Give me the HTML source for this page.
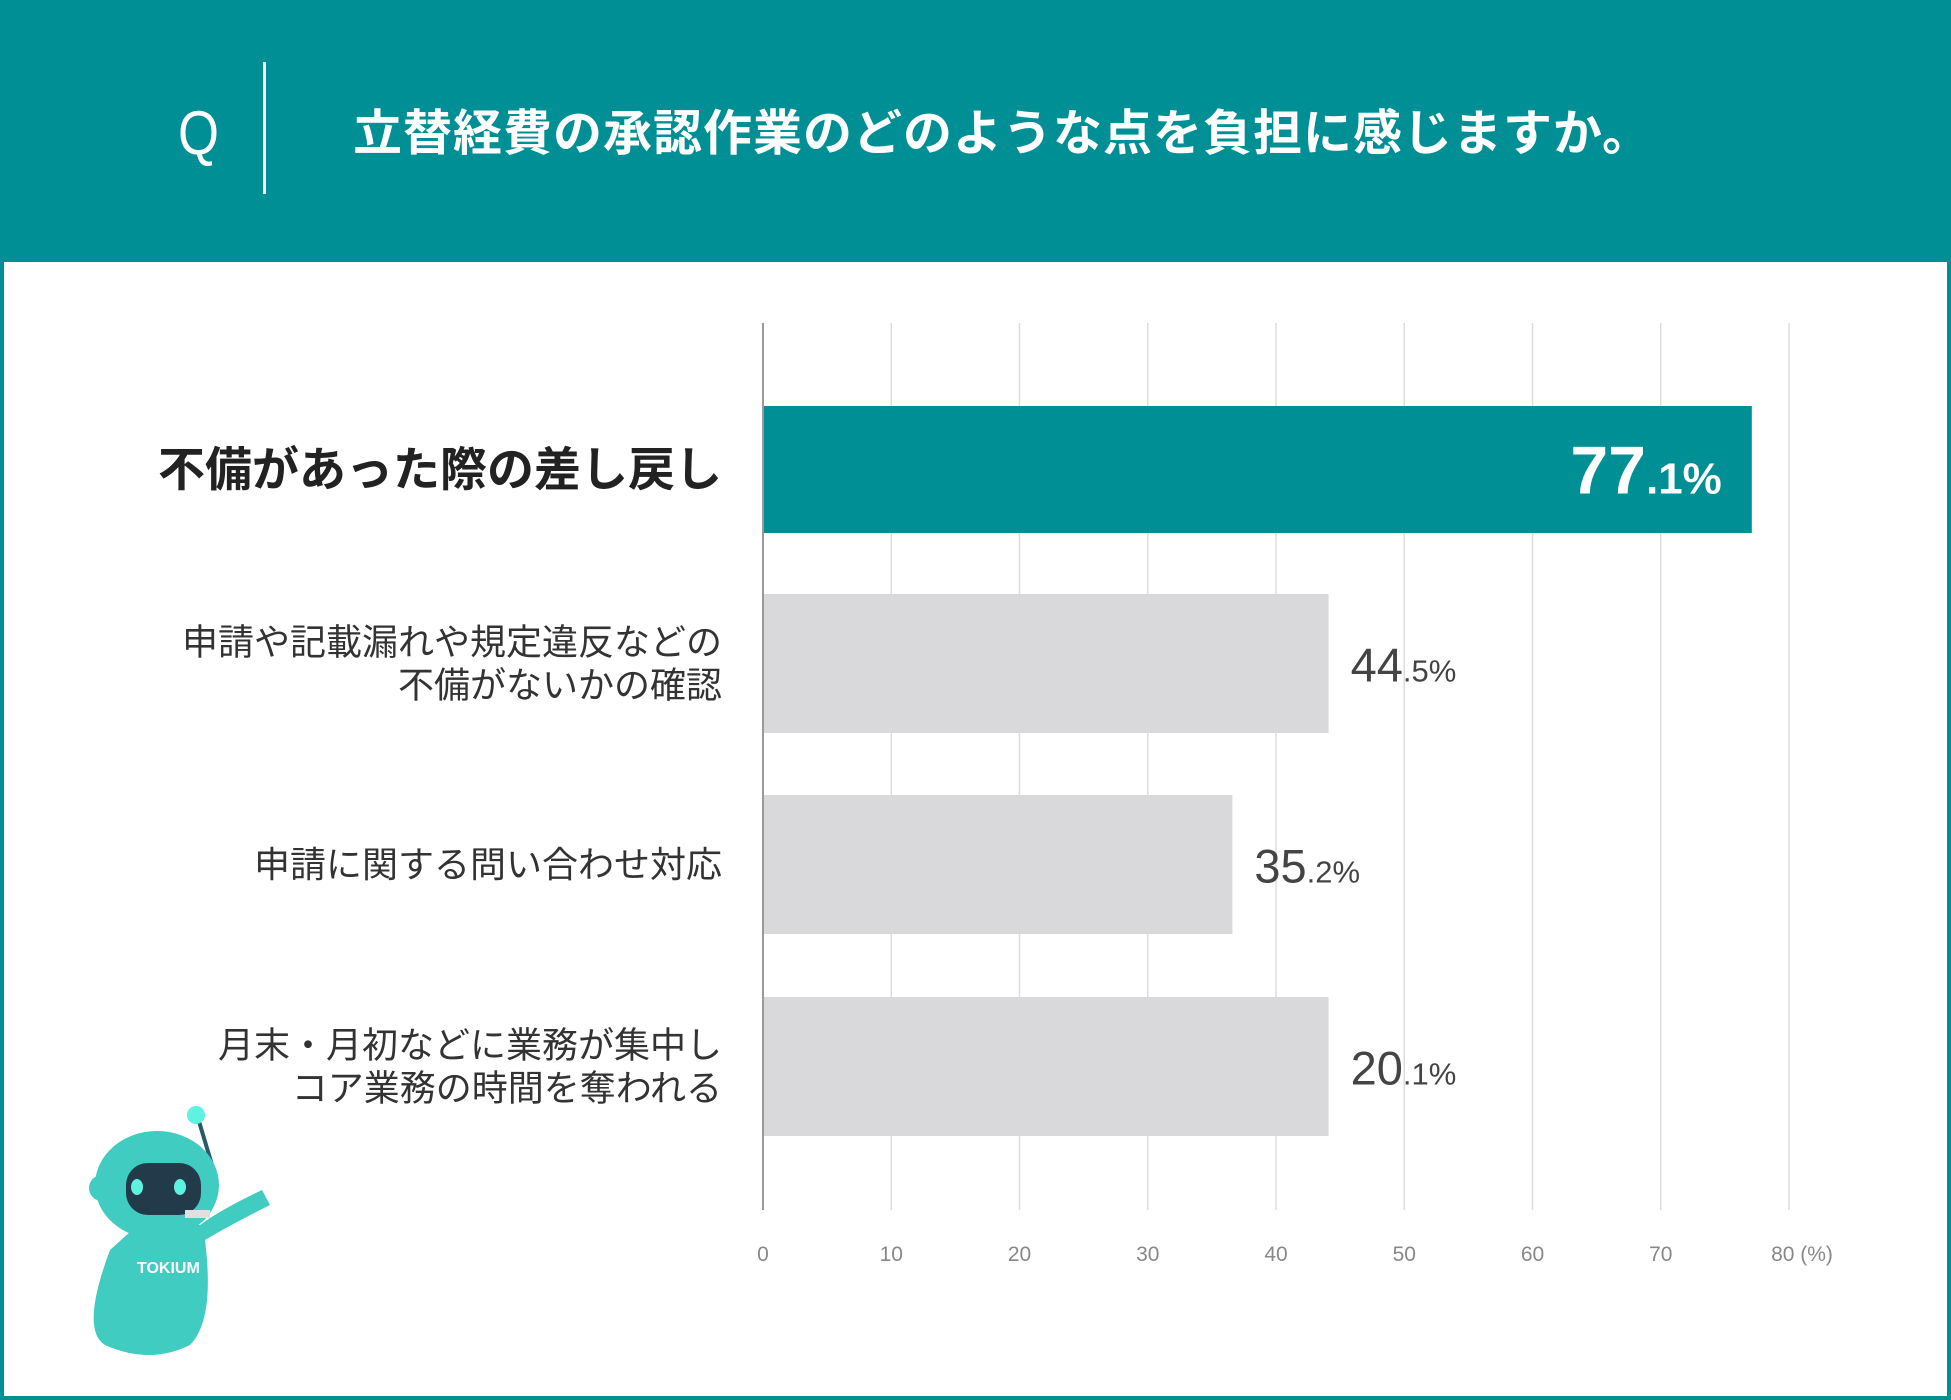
<!DOCTYPE html>
<html><head><meta charset="utf-8">
<style>
html,body{margin:0;padding:0}
body{width:1951px;height:1400px;position:relative;overflow:hidden;background:#008f94;font-family:"Liberation Sans","Noto Sans CJK JP",sans-serif}
#panel{position:absolute;left:4px;top:262px;width:1943px;height:1134px;background:#fff}
.t{position:absolute;white-space:nowrap}
</style></head>
<body>
<div class="t" style="left:178px;top:98px;font-size:62px;color:#fff;font-weight:300;line-height:72px;transform:scaleX(0.85);transform-origin:left">Q</div>
<div style="position:absolute;left:263px;top:62px;width:3px;height:132px;background:#fff"></div>
<div class="t" style="left:353px;top:104px;font-size:49px;font-weight:bold;color:#fff;line-height:60px;letter-spacing:1px">立替経費の承認作業のどのような点を負担に感じますか。</div>
<div id="panel"></div>
<svg id="chart" width="1951" height="1400" style="position:absolute;left:0;top:0"></svg>
<svg width="1951" height="1400" style="position:absolute;left:0;top:0">
 <line x1="198" y1="1118" x2="215" y2="1175" stroke="#2a5a6a" stroke-width="4"/>
 <circle cx="196" cy="1115" r="9" fill="#5ef2e0"/>
 <path d="M110 1250 Q80 1330 105 1345 Q150 1365 190 1345 Q215 1320 205 1240 Q230 1225 270 1205 L262 1190 Q220 1210 200 1225 Q160 1225 130 1232 Z" fill="#40ccc0"/>
 <ellipse cx="157" cy="1185" rx="62" ry="54" fill="#40ccc0"/>
 <rect x="126" y="1163" width="75" height="52" rx="22" fill="#233a4a"/>
 <ellipse cx="137" cy="1187" rx="6" ry="8" fill="#5ef2e0"/>
 <ellipse cx="180" cy="1187" rx="6" ry="8" fill="#5ef2e0"/>
 <circle cx="102" cy="1188" r="13" fill="#40ccc0"/>
 <rect x="185" y="1210" width="25" height="8" fill="#e0e0e0"/>
 <text x="137" y="1273" font-size="16" font-weight="bold" fill="#fff" font-family="Liberation Sans, sans-serif">TOKIUM</text>
</svg>
<script>
const categories=[["不備があった際の差し戻し"],["申請や記載漏れや規定違反などの","不備がないかの確認"],["申請に関する問い合わせ対応"],["月末・月初などに業務が集中し","コア業務の時間を奪われる"]];
const values=["77.1","44.5","35.2","20.1"];
const barLengths=[77.1,44.1,36.6,44.1];
const ticks=[0,10,20,30,40,50,60,70,80];
const svg=document.getElementById('chart');
const NS='http://www.w3.org/2000/svg';
const x0=763,x1=1789,xmax=80;
const X=v=>x0+(x1-x0)*v/xmax;
const bands=[[406,533],[594,733],[795,934],[997,1136]];
function mk(t,a){const e=document.createElementNS(NS,t);for(const k in a)e.setAttribute(k,a[k]);svg.appendChild(e);return e;}
ticks.forEach((t,i)=>{
 const l=mk('line',{x1:X(t),x2:X(t),y1:323,y2:1210,stroke:t===0?'#999':'#ddd','stroke-width':t===0?2:1.5});
 
 
 const tx=mk('text',{x:X(t),y:1261,'font-size':21,fill:'#888','text-anchor':'middle'});
 tx.textContent=t===80?'80 (%)':String(t);
 if(t===80)tx.setAttribute('x',X(t)+13);
 
 
});
barLengths.forEach((v,i)=>{
 const [y0,y1]=bands[i];const first=i===0;
 const r=mk('rect',{x:X(0)+1,y:y0,width:X(v)-X(0)-1,height:y1-y0,fill:first?'#008f94':'#d9d9db'});
 
 
 const parts=values[i].split('.');
 const ty=(y0+y1)/2+(first?24:18);
 const t=mk('text',{x:first?X(v)-30:X(v)+22,y:ty,'text-anchor':first?'end':'start',fill:first?'#fff':'#444'});
 const a=document.createElementNS(NS,'tspan');a.textContent=parts[0];a.setAttribute('font-size',first?68:47);a.setAttribute('font-weight',first?'bold':'300');
 const b=document.createElementNS(NS,'tspan');b.textContent='.'+parts[1]+'%';b.setAttribute('font-size',first?44:31);b.setAttribute('font-weight',first?'bold':'300');
 t.appendChild(a);t.appendChild(b);
 
 
 const lines=categories[i];const fs=first?47:36;const lh=first?0:43;
 const cy=(y0+y1)/2-(lines.length-1)*lh/2+fs*0.35;
 const c=mk('text',{x:722,y:cy,'text-anchor':'end','font-size':fs,'font-weight':first?'bold':'normal',fill:first?'#222':'#333'});
 lines.forEach((s,j)=>{const sp=document.createElementNS(NS,'tspan');sp.setAttribute('x',722);sp.setAttribute('y',cy+j*lh);sp.textContent=s;c.appendChild(sp);});
 
 
});
</script>
</body></html>
